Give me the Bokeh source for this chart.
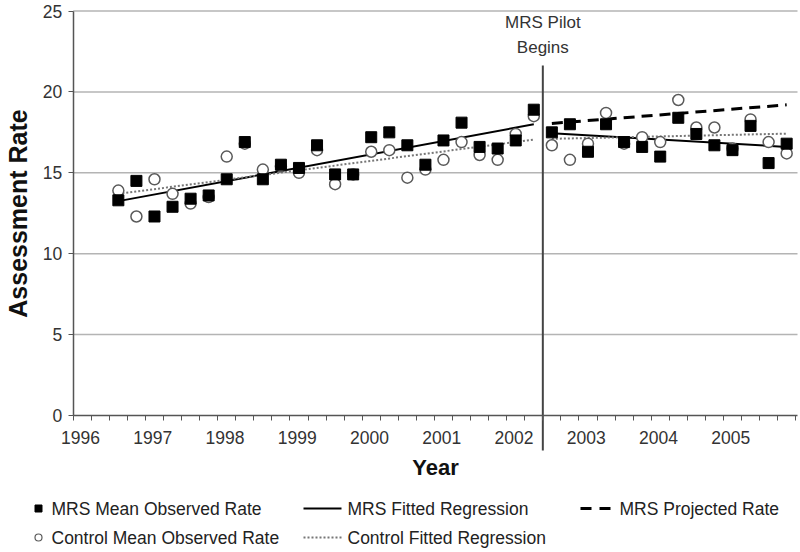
from bokeh.plotting import figure
from bokeh.models import Range1d, FixedTicker
from bokeh.core.properties import value
from bokeh.embed import file_html
from bokeh.resources import INLINE

FONT = "Liberation Sans"

# ---------------- data ----------------
# quarter mid-points, Q3 1996 .. Q2 2002 (pre-pilot) and Q3 2002 .. Q4 2005 (pilot)
pre_quarters = [1996.625, 1996.875, 1997.125, 1997.375, 1997.625, 1997.875, 1998.125, 1998.375,
                1998.625, 1998.875, 1999.125, 1999.375, 1999.625, 1999.875, 2000.125, 2000.375,
                2000.625, 2000.875, 2001.125, 2001.375, 2001.625, 2001.875, 2002.125, 2002.375]
post_quarters = [2002.625, 2002.875, 2003.125, 2003.375, 2003.625, 2003.875, 2004.125, 2004.375,
                 2004.625, 2004.875, 2005.125, 2005.375, 2005.625, 2005.875]

mrs_pre = [13.3, 14.5, 12.3, 12.9, 13.4, 13.6, 14.6, 16.9, 14.6, 15.5, 15.3, 16.7,
           14.9, 14.9, 17.2, 17.5, 16.7, 15.5, 17.0, 18.1, 16.6, 16.5, 17.0, 18.9]
ctrl_pre = [13.9, 12.3, 14.6, 13.7, 13.1, 13.5, 16.0, 16.8, 15.2, 15.4, 15.0, 16.4,
            14.3, 14.9, 16.3, 16.4, 14.7, 15.2, 15.8, 16.9, 16.1, 15.8, 17.4, 18.5]
mrs_post = [17.5, 18.0, 16.3, 18.0, 16.9, 16.6, 16.0, 18.4, 17.4, 16.7, 16.4, 17.9, 15.6, 16.8]
ctrl_post = [16.7, 15.8, 16.8, 18.7, 16.8, 17.2, 16.9, 19.5, 17.8, 17.8, 16.5, 18.3, 16.9, 16.2]

# fitted / projected lines (start, end values)
fit_pre_x = [1996.625, 2002.375]
fit_post_x = [2002.625, 2005.875]
mrs_fit_pre = [13.25, 18.0]
ctrl_fit_pre = [13.7, 17.05]
mrs_fit_post = [17.45, 16.6]
ctrl_fit_post = [17.1, 17.42]
mrs_projected = [18.05, 19.2]

pilot_start = 2002.5
years = [1996, 1997, 1998, 1999, 2000, 2001, 2002, 2003, 2004, 2005]
year_labels = ["1996", "1997", "1998", "1999", "2000", "2001", "2002", "2003", "2004", "2005"]
y_ticks = [0, 5, 10, 15, 20, 25]
grid_values = [5, 10, 15, 20, 25]

legend_labels = ["MRS Mean Observed Rate", "MRS Fitted Regression", "MRS Projected Rate",
                 "Control Mean Observed Rate", "Control Fitted Regression"]

# ---------------- layout helpers (page pixels -> data units) ----------------
W, H = 800, 552
X_ORIGIN_PX, PX_PER_YEAR = 72.7, 72.25     # page x of 1996
Y_ORIGIN_PX, PX_PER_UNIT = 415.0, 16.18    # page y of 0


def xd(px):
    return 1996 + (px - X_ORIGIN_PX) / PX_PER_YEAR


def yd(py):
    return (Y_ORIGIN_PX - py) / PX_PER_UNIT


X_END = xd(797)
LABEL_SHIFT = 0.1  # year labels sit slightly right of the year boundary

p = figure(width=W, height=H, x_range=Range1d(xd(0), xd(W)), y_range=Range1d(yd(H), yd(0)),
           output_backend="svg", toolbar_location=None, min_border=0)
p.outline_line_color = None
p.background_fill_color = "white"
p.border_fill_color = "white"
p.xgrid.visible = False
p.ygrid.visible = False

# axes placed at fixed data locations so the legend can live inside the frame
xa, ya = p.xaxis[0], p.yaxis[0]
xa.fixed_location = 0
xa.bounds = (1996, X_END)
ya.fixed_location = 1996
ya.bounds = (0, 25)

ya.ticker = FixedTicker(ticks=y_ticks)
major_x = [y + LABEL_SHIFT for y in years]
xa.ticker = FixedTicker(ticks=major_x, minor_ticks=[1996 + 0.25 * k for k in range(41)])
xa.major_label_overrides = {t: lab for t, lab in zip(major_x, year_labels)}
for ax in (xa, ya):
    ax.axis_line_color = "#555555"
    ax.axis_line_width = 1.5
    ax.major_tick_line_color = "#555555"
    ax.minor_tick_line_color = "#555555"
    ax.major_tick_out = 5
    ax.major_tick_in = 0
    ax.minor_tick_out = 5
    ax.minor_tick_in = 0
    ax.major_label_text_font = FONT
    ax.major_label_text_font_size = "17.5px"
    ax.major_label_text_color = "#333333"
    ax.axis_label_text_font = FONT
    ax.axis_label_text_font_style = "bold"
    ax.axis_label_text_color = "#111111"
xa.major_tick_line_color = None
ya.minor_tick_line_color = None
xa.major_label_standoff = 10
ya.major_label_standoff = 6
xa.axis_label = "Year"
xa.axis_label_text_font_size = "22px"
xa.axis_label_standoff = 8
ya.axis_label = "Assessment Rate"
ya.axis_label_text_font_size = "25px"
ya.axis_label_standoff = 8

# horizontal grid lines between the axis and the right edge
p.segment(x0=[1996] * len(grid_values), y0=grid_values, x1=[X_END] * len(grid_values),
          y1=grid_values, line_color="#b4b4b4", line_width=1.5)

# regression lines
p.line(fit_pre_x, mrs_fit_pre, line_color="black", line_width=2)
p.line(fit_pre_x, ctrl_fit_pre, line_color="#777777", line_width=2, line_dash="2 2")
p.line(fit_post_x, mrs_fit_post, line_color="black", line_width=2)
p.line(fit_post_x, ctrl_fit_post, line_color="#777777", line_width=2, line_dash="2 2")
p.line(fit_post_x, mrs_projected, line_color="black", line_width=3, line_dash="11 7")

# observed points
p.scatter(pre_quarters, ctrl_pre, marker="circle", size=11, fill_color="white",
          line_color="#5a5a5a", line_width=1.5)
p.scatter(post_quarters, ctrl_post, marker="circle", size=11, fill_color="white",
          line_color="#5a5a5a", line_width=1.5)
p.scatter(pre_quarters, mrs_pre, marker="square", size=11, fill_color="black",
          line_color="black")
p.scatter(post_quarters, mrs_post, marker="square", size=11, fill_color="black",
          line_color="black")

# pilot start line and caption
p.segment(x0=[pilot_start], y0=[yd(65)], x1=[pilot_start], y1=[yd(450)],
          line_color="#444444", line_width=2)
p.text(x=[pilot_start, pilot_start], y=[yd(22), yd(47)], text=["MRS Pilot", "Begins"],
       text_align="center", text_baseline="middle", text_font=value(FONT),
       text_font_size=value("17px"), text_color="#333333")

# ---------------- legend (below the axis) ----------------
r1, r2 = yd(508), yd(537)
p.scatter([xd(38)], [r1], marker="square", size=7, fill_color="black", line_color="black")
p.scatter([xd(38)], [r2], marker="circle", size=7, fill_color="white", line_color="#5a5a5a",
          line_width=1.2)
p.line([xd(303), xd(341)], [r1, r1], line_color="black", line_width=2)
p.line([xd(303), xd(341)], [r2, r2], line_color="#777777", line_width=2, line_dash="2 2")
p.line([xd(580), xd(612)], [r1, r1], line_color="black", line_width=3, line_dash="11 8")
p.text(x=[xd(51), xd(347), xd(619), xd(51), xd(347)], y=[r1, r1, r1, r2, r2],
       text=legend_labels, text_font=value(FONT), text_font_size=value("17.5px"),
       text_color="#222222", text_baseline="middle", text_align="left")

open("out.html", "w").write(file_html(p, INLINE))
